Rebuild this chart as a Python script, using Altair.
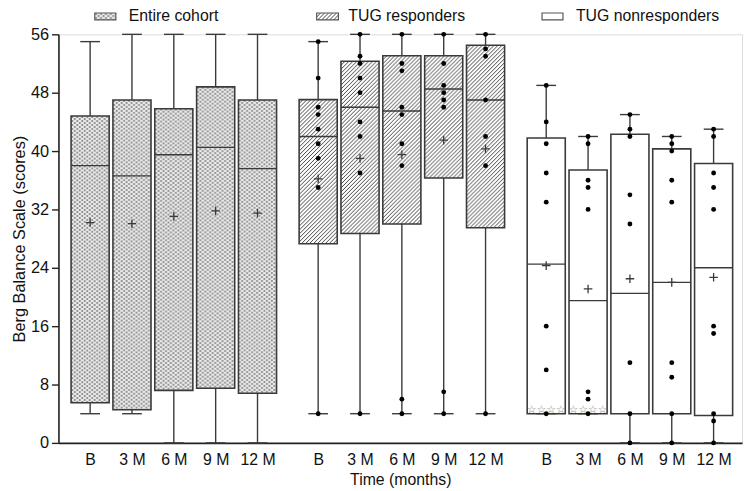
import base64
import altair as alt
import pandas as pd

# ---------------- data ----------------
groups = ["Entire cohort", "TUG responders", "TUG nonresponders"]
timepoints = ["B", "3 M", "6 M", "9 M", "12 M"]

ec_min = [4, 4, 0, 0, 0]
ec_q1 = [5.5, 4.55, 7.2, 7.5, 6.8]
ec_med = [38.0, 36.6, 39.5, 40.5, 37.6]
ec_q3 = [44.8, 47.0, 45.8, 48.8, 47.0]
ec_max = [55, 56, 56, 56, 56]
ec_mean = [30.2, 30.05, 31.05, 31.8, 31.5]

resp_min = [4, 4, 4, 4, 4]
resp_q1 = [27.3, 28.7, 30.0, 36.3, 29.5]
resp_med = [42.0, 46.0, 45.5, 48.5, 47.0]
resp_q3 = [47.05, 52.3, 53.06, 53.06, 54.5]
resp_max = [55, 56, 56, 56, 56]
resp_mean = [36.2, 39.0, 39.5, 41.5, 40.3]
resp_points = [
    [55, 50, 46, 45, 43, 41, 39, 35, 4],
    [56, 53, 52, 50, 48, 44, 42, 37, 4],
    [56, 52, 51, 46, 45, 41, 38, 6, 4],
    [56, 52, 49, 48, 47, 46, 7, 4],
    [56, 54, 53, 47, 42, 38, 4],
]

non_min = [4, 4, 0, 0, 0]
non_q1 = [4.0, 4.0, 4.0, 4.0, 3.75]
non_med = [24.5, 19.5, 20.5, 22.0, 24.0]
non_q3 = [41.8, 37.4, 42.3, 40.3, 38.3]
non_max = [49, 42, 45, 42, 43]
non_mean = [24.3, 21.1, 22.5, 22.0, 22.7]
non_points = [
    [49, 44, 41, 37, 33, 16, 10, 4],
    [42, 41, 36, 35, 32, 7, 6, 4],
    [45, 43, 42, 34, 30, 11, 4, 0],
    [42, 41, 40, 36, 33, 11, 9, 4, 0],
    [43, 42, 37, 35, 32, 16, 15, 4, 3, 0],
]

star_group = "TUG nonresponders"
star_times = ["B", "3 M"]
star_label = "☆☆☆☆"

y_ticks = list(range(0, 57, 4))

# ---------------- layout helpers ----------------
STEP = 5.45      # offset between groups, in category steps
HALF = 0.455     # half box width
CAP = 0.236      # half whisker-cap width

stats = {
    groups[0]: (ec_min, ec_q1, ec_med, ec_q3, ec_max, ec_mean),
    groups[1]: (resp_min, resp_q1, resp_med, resp_q3, resp_max, resp_mean),
    groups[2]: (non_min, non_q1, non_med, non_q3, non_max, non_mean),
}
points = {groups[1]: resp_points, groups[2]: non_points}


def svg_url(body):
    svg = ('<svg xmlns="http://www.w3.org/2000/svg" width="100%" height="100%">'
           + body + '</svg>')
    return "data:image/svg+xml;base64," + base64.b64encode(svg.encode()).decode()


dots_url = svg_url(
    '<defs><pattern id="d" width="5" height="4" patternUnits="userSpaceOnUse">'
    '<rect width="5" height="4" fill="#ececec"/>'
    '<ellipse cx="1.3" cy="1" rx="1.15" ry="0.8" fill="#5e5e5e"/>'
    '<ellipse cx="3.8" cy="3" rx="1.15" ry="0.8" fill="#5e5e5e"/>'
    '</pattern></defs><rect width="100%" height="100%" fill="url(#d)"/>')
hatch_url = svg_url(
    '<defs><pattern id="h" width="4" height="4" patternUnits="userSpaceOnUse">'
    '<rect width="4" height="4" fill="#ffffff"/>'
    '<path d="M-1,1 L1,-1 M0,4 L4,0 M3,5 L5,3" stroke="#2b2b2b" stroke-width="0.9"/>'
    '</pattern></defs><rect width="100%" height="100%" fill="url(#h)"/>')
pattern_of = {groups[0]: dots_url, groups[1]: hatch_url, groups[2]: ""}

rows = []
for g, name in enumerate(groups):
    mn, q1, md, q3, mx, me = stats[name]
    for i, t in enumerate(timepoints):
        rows.append(dict(group=name, time=t, pos=g * STEP + i, mn=mn[i], q1=q1[i],
                         med=md[i], q3=q3[i], mx=mx[i], mean=me[i], url=pattern_of[name]))
box_df = pd.DataFrame(rows)

prow = []
for name, plist in points.items():
    g = groups.index(name)
    for i, vals in enumerate(plist):
        for v in vals:
            prow.append(dict(group=name, pos=g * STEP + i, val=v))
pt_df = pd.DataFrame(prow)

star_df = pd.DataFrame([dict(pos=groups.index(star_group) * STEP + timepoints.index(t),
                             val=4.5, label=star_label) for t in star_times])

# legend entries (placed through the same scales, above the plot frame)
leg_df = pd.DataFrame(dict(
    label=groups,
    sx1=[0.111, 5.414, 10.80],
    sx2=[0.615, 5.934, 11.30],
    tx=[0.922, 6.17, 11.61],
    url=[dots_url, hatch_url, ""],
))
leg_df["y1"] = 57.97
leg_df["y2"] = 58.92
leg_df["ty"] = 58.44

xs = alt.Scale(domain=[-0.757, 15.58], nice=False, zero=False)
ys = alt.Scale(domain=[0, 56], nice=False, zero=False)
FONT = "Liberation Sans"
DARK = "#3a3a3a"

positions = [g * STEP + i for g in range(3) for i in range(5)]
x_label_expr = ("[" + ",".join("'%s'" % t for t in timepoints) + "]"
                "[round(datum.value - %s*floor(datum.value/5.4))]" % STEP)

x_axis = alt.Axis(values=positions, labelExpr=x_label_expr, ticks=False, grid=False,
                  title="Time (months)", labelFont=FONT, labelFontSize=16,
                  labelColor="#111", titleFont=FONT, titleFontSize=16,
                  titleFontWeight="normal", titleColor="#111", labelPadding=9,
                  titlePadding=4, domainColor="#222", domainWidth=1.6)
y_axis = alt.Axis(values=y_ticks, labelExpr="datum.value % 8 === 0 ? datum.label : ''",
                  tickSize={"condition": {"test": "datum.value % 8 === 0", "value": 7}, "value": 5},
                  tickColor="#222", tickWidth=1.4, grid=False, domainColor="#222",
                  domainWidth=1.6, labelFont=FONT, labelFontSize=16.5, labelColor="#111",
                  labelPadding=3, title="Berg Balance Scale (scores)", titleFont=FONT,
                  titleFontSize=16.5, titleFontWeight="normal", titleColor="#111",
                  titlePadding=3)

base = alt.Chart(box_df)

axes_layer = base.mark_rule(opacity=0).encode(
    x=alt.X("pos:Q", scale=xs, axis=x_axis),
    y=alt.Y("mn:Q", scale=ys, axis=y_axis),
)

whisk_lo = base.mark_rule(color=DARK, strokeWidth=1.4).encode(
    x=alt.X("pos:Q", scale=xs), y=alt.Y("mn:Q", scale=ys), y2="q1:Q")
whisk_hi = base.mark_rule(color=DARK, strokeWidth=1.4).encode(
    x=alt.X("pos:Q", scale=xs), y=alt.Y("q3:Q", scale=ys), y2="mx:Q")
cap_lo = base.transform_calculate(c1=f"datum.pos-{CAP}", c2=f"datum.pos+{CAP}").mark_rule(
    color=DARK, strokeWidth=1.4).encode(
    x=alt.X("c1:Q", scale=xs), x2="c2:Q", y=alt.Y("mn:Q", scale=ys))
cap_hi = base.transform_calculate(c1=f"datum.pos-{CAP}", c2=f"datum.pos+{CAP}").mark_rule(
    color=DARK, strokeWidth=1.4).encode(
    x=alt.X("c1:Q", scale=xs), x2="c2:Q", y=alt.Y("mx:Q", scale=ys))

box_calc = base.transform_calculate(b1=f"datum.pos-{HALF}", b2=f"datum.pos+{HALF}")
box_white = box_calc.mark_rect(fill="white").encode(
    x=alt.X("b1:Q", scale=xs), x2="b2:Q", y=alt.Y("q1:Q", scale=ys), y2="q3:Q")
box_img = box_calc.transform_filter("datum.url != ''").mark_image(aspect=False).encode(
    x=alt.X("b1:Q", scale=xs), x2="b2:Q", y=alt.Y("q1:Q", scale=ys), y2="q3:Q", url="url:N")
box_edge = box_calc.mark_rect(fill=None, fillOpacity=0, stroke=DARK, strokeWidth=1.6).encode(
    x=alt.X("b1:Q", scale=xs), x2="b2:Q", y=alt.Y("q1:Q", scale=ys), y2="q3:Q")
median = box_calc.mark_rule(color=DARK, strokeWidth=1.4).encode(
    x=alt.X("b1:Q", scale=xs), x2="b2:Q", y=alt.Y("med:Q", scale=ys))
mean = base.mark_point(shape="M-1,0L1,0M0,-1L0,1", size=75, filled=False,
                       stroke=DARK, strokeWidth=1.3, opacity=1).encode(
    x=alt.X("pos:Q", scale=xs), y=alt.Y("mean:Q", scale=ys))

dots = alt.Chart(pt_df).mark_circle(size=24, color="#000", opacity=1).encode(
    x=alt.X("pos:Q", scale=xs), y=alt.Y("val:Q", scale=ys))

stars = alt.Chart(star_df).mark_text(font="DejaVu Sans", fontSize=11, color="#777777",
                                     baseline="middle").encode(
    x=alt.X("pos:Q", scale=xs), y=alt.Y("val:Q", scale=ys), text="label:N")

legend_base = alt.Chart(leg_df)
leg_white = legend_base.mark_rect(fill="white").encode(
    x=alt.X("sx1:Q", scale=xs), x2="sx2:Q", y=alt.Y("y1:Q", scale=ys), y2="y2:Q")
leg_img = legend_base.transform_filter("datum.url != ''").mark_image(aspect=False).encode(
    x=alt.X("sx1:Q", scale=xs), x2="sx2:Q", y=alt.Y("y1:Q", scale=ys), y2="y2:Q", url="url:N")
leg_edge = legend_base.mark_rect(fill=None, fillOpacity=0, stroke="#555", strokeWidth=1.2).encode(
    x=alt.X("sx1:Q", scale=xs), x2="sx2:Q", y=alt.Y("y1:Q", scale=ys), y2="y2:Q")
leg_text = legend_base.mark_text(font=FONT, fontSize=16, color="#111", align="left",
                                 baseline="middle").encode(
    x=alt.X("tx:Q", scale=xs), y=alt.Y("ty:Q", scale=ys), text="label:N")

chart = alt.layer(
    axes_layer, whisk_lo, whisk_hi, cap_lo, cap_hi, box_white, box_img, box_edge,
    median, mean, dots, stars, leg_white, leg_img, leg_edge, leg_text,
).properties(
    width=691, height=413,
    autosize=alt.AutoSizeParams(type="none"),
    padding={"left": 51, "top": 24, "right": 5, "bottom": 46},
).configure_view(stroke=None).configure(background="white")

chart.save("out.html", embed_options={"renderer": "svg", "actions": False})
